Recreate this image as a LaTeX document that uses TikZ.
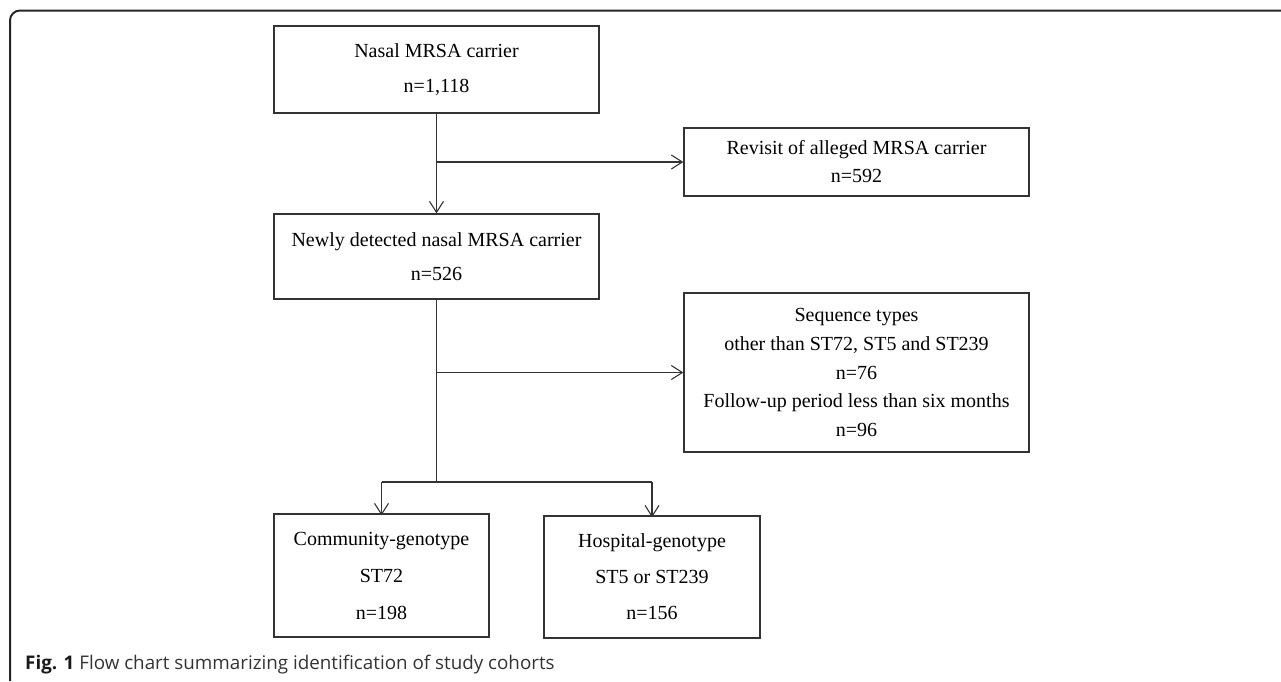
\documentclass[tikz,border=0pt]{standalone}
\usepackage{fontspec}
\setmainfont{Liberation Serif}
\newfontfamily\capfont{Open Sans}
\usetikzlibrary{arrows.meta}
\begin{document}
\begin{tikzpicture}[x=1pt,y=-1pt,
  box/.style={draw=black!80, line width=1.3pt, align=center, inner sep=0pt,
    font=\fontsize{20}{35}\selectfont},
  conn/.style={draw=black!80, line width=1.3pt},
  arr/.style={conn, -{Straight Barb[length=11pt,width=14pt,line width=1.1pt]}}]
\useasboundingbox (0,0) rectangle (1281,681);
\draw[line width=2pt, black!85, rounded corners=10pt] (10,681) -- (10,10.5) -- (1281,10.5);

\node[box, minimum width=325pt, minimum height=87pt] (b1) at (436.5,69.5)
  {Nasal MRSA carrier\\n=1,118};
\node[box, minimum width=325pt, minimum height=85pt, font=\fontsize{20}{34}\selectfont] (b2) at (436.5,256.5)
  {Newly detected nasal MRSA carrier\\n=526};
\node[box, minimum width=345pt, minimum height=68pt, font=\fontsize{20}{28}\selectfont] (r1) at (856.5,162)
  {Revisit of alleged MRSA carrier\\n=592};
\node[box, minimum width=345pt, minimum height=159pt, font=\fontsize{20}{28.7}\selectfont] (r2) at (856.5,372.5)
  {Sequence types\\other than ST72, ST5 and ST239\\n=76\\Follow-up period less than six months\\n=96};
\node[box, minimum width=215pt, minimum height=123pt, font=\fontsize{20}{37}\selectfont] (c) at (381.5,575.5)
  {Community-genotype\\ST72\\n=198};
\node[box, minimum width=216pt, minimum height=122pt, font=\fontsize{20}{36}\selectfont] (h) at (652,577)
  {Hospital-genotype\\ST5 or ST239\\n=156};

\coordinate (j1) at (b1.south |- r1.west);
\coordinate (j2) at (b2.south |- r2.west);
\coordinate (j3) at (436.5,482);
\coordinate (jc) at (c.north |- j3);
\coordinate (jh) at (h.north |- j3);

\draw[arr] (b1.south) -- (b2.north);
\draw[arr] (j1) -- (r1.west);
\draw[conn] (b2.south) -- (j3);
\draw[arr] (j2) -- (r2.west);
\draw[conn] (jc) -- (jh);
\draw[arr] (jc) -- ([yshift=-2pt]c.north);
\draw[arr] (jh) -- ([yshift=-2pt]h.north);

\node[anchor=base west, inner sep=0pt, text=black!80,
  font=\capfont\fontsize{18.8}{22}\selectfont] (cap) at (25,669)
  {\textbf{\color{black!90}Fig. 1} Flow chart summarizing identification of study cohorts};
\end{tikzpicture}
\end{document}
